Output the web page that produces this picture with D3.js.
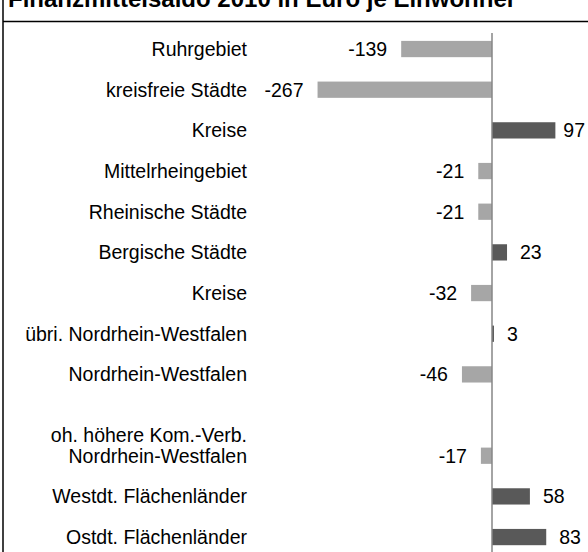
<!DOCTYPE html>
<html>
<head>
<meta charset="utf-8">
<script src="https://cdn.jsdelivr.net/npm/d3@7"></script>
<style>
    body { margin: 0; background: #fff; }
    svg { display: block; font-family: "Liberation Sans", Arial, sans-serif; }
</style>
</head>
<body>
<svg id="chart" width="588" height="552"></svg>
<script>
// categories top to bottom, "" is the empty spacer row
const labels = [
    ['Ruhrgebiet'],
    ['kreisfreie Städte'],
    ['Kreise'],
    ['Mittelrheingebiet'],
    ['Rheinische Städte'],
    ['Bergische Städte'],
    ['Kreise'],
    ['übri. Nordrhein-Westfalen'],
    ['Nordrhein-Westfalen'],
    [''],
    ['oh. höhere Kom.-Verb.', 'Nordrhein-Westfalen'],
    ['Westdt. Flächenländer'],
    ['Ostdt. Flächenländer']
];
const values = [-139, -267, 97, -21, -21, 23, -32, 3, -46, null, -17, 58, 83];
const title = 'Finanzmittelsaldo 2010 in Euro je Einwohner';

const svg = d3.select('#chart');
const W = 588;
const rows = labels.map((d, i) => i);

const x = d3.scaleLinear().domain([-300, 150]).range([296, 590]);
const y = d3.scaleBand().domain(rows).range([28.7, 557.4]).paddingInner(0.6).paddingOuter(0.3);

// frame
svg.append('line')
    .attr('x1', 3).attr('x2', 3).attr('y1', 0).attr('y2', 552)
    .attr('stroke', '#000').attr('stroke-width', 1.5);
svg.append('line')
    .attr('x1', 3).attr('x2', W).attr('y1', 21.5).attr('y2', 21.5)
    .attr('stroke', '#000').attr('stroke-width', 1.5);

// title, top is clipped by the window like in the original
svg.append('text')
    .attr('x', 8).attr('y', 7)
    .attr('font-size', 24).attr('font-weight', 'bold')
    .text(title);

const data = rows.filter(i => values[i] !== null).map(i => ({i: i, v: values[i]}));

svg.append('g')
    .selectAll('rect')
    .data(data)
    .enter()
    .append('rect')
    .attr('x', d => x(Math.min(0, d.v)))
    .attr('width', d => Math.abs(x(d.v) - x(0)))
    .attr('y', d => y(d.i))
    .attr('height', y.bandwidth())
    .attr('fill', d => d.v < 0 ? '#a6a6a6' : '#595959');

// zero axis
svg.append('line')
    .attr('x1', x(0)).attr('x2', x(0)).attr('y1', 33).attr('y2', 552)
    .attr('stroke', '#868686').attr('stroke-width', 1.5);

// value labels, positive ones pushed back inside the right edge if needed
svg.append('g')
    .selectAll('text')
    .data(data)
    .enter()
    .append('text')
    .attr('y', d => y(d.i) + y.bandwidth() / 2)
    .attr('dy', '0.35em')
    .attr('text-anchor', d => d.v < 0 ? 'end' : 'start')
    .attr('font-size', 19.5)
    .text(d => d.v)
    .attr('x', function(d) {
        if (d.v < 0) return x(d.v) - 14;
        const w = this.getComputedTextLength();
        return Math.min(x(d.v) + 13, W - 3 - w);
    });

// category labels
const lab = svg.append('g')
    .selectAll('text')
    .data(rows)
    .enter()
    .append('text')
    .attr('x', 247)
    .attr('y', i => y(i) + y.bandwidth() / 2)
    .attr('text-anchor', 'end')
    .attr('font-size', 19.5);

lab.selectAll('tspan')
    .data(i => labels[i].map((t, k, arr) => ({t: t, k: k, n: arr.length})))
    .enter()
    .append('tspan')
    .attr('x', 247)
    .attr('dy', d => d.k === 0 ? (0.35 - (d.n - 1) * 1.05) + 'em' : '1.05em')
    .text(d => d.t);
</script>
</body>
</html>
